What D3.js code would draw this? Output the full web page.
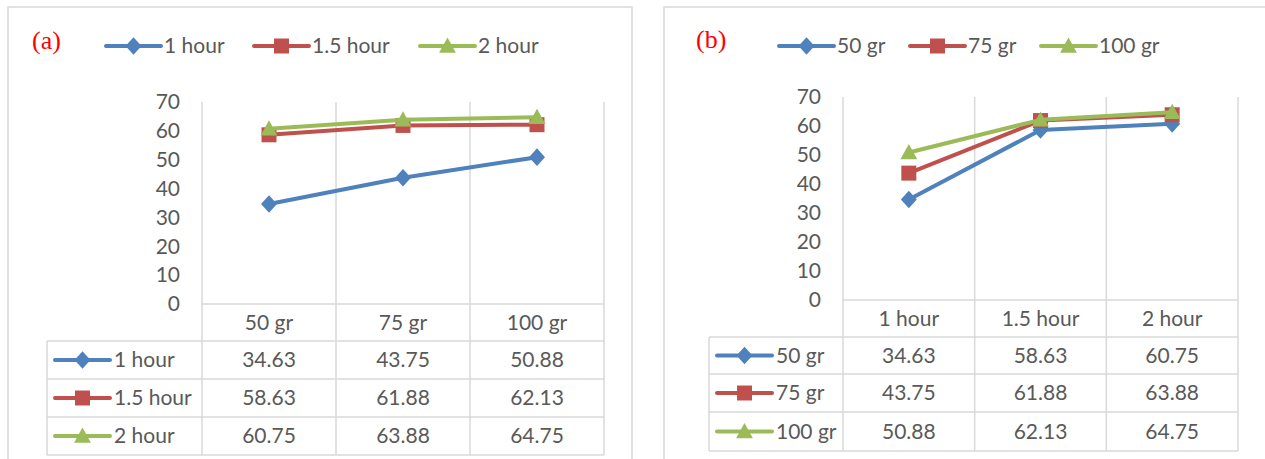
<!DOCTYPE html>
<html>
<head>
<meta charset="utf-8">
<script src="https://cdn.jsdelivr.net/npm/d3@7"></script>
<style>
  html, body { margin: 0; padding: 0; background: #ffffff; }
  svg { display: block; }
  text { font-family: Lato, "Open Sans", "Liberation Sans", sans-serif; fill: #595959; }
</style>
</head>
<body>
<svg id="chart" width="1265" height="459"></svg>
<script>
// ---------------- DATA ----------------
// Panel (a): x = sample mass, series = time
const categoriesA = ["50 gr", "75 gr", "100 gr"];
const seriesNamesA = ["1 hour", "1.5 hour", "2 hour"];
const valuesA_1hour = [34.63, 43.75, 50.88];
const valuesA_15hour = [58.63, 61.88, 62.13];
const valuesA_2hour = [60.75, 63.88, 64.75];

// Panel (b): x = time, series = sample mass
const categoriesB = ["1 hour", "1.5 hour", "2 hour"];
const seriesNamesB = ["50 gr", "75 gr", "100 gr"];
const valuesB_50gr = [34.63, 58.63, 60.75];
const valuesB_75gr = [43.75, 61.88, 63.88];
const valuesB_100gr = [50.88, 62.13, 64.75];

const yTicks = [0, 10, 20, 30, 40, 50, 60, 70];
const panelLabels = ["(a)", "(b)"];

// ---------------- STYLE ----------------
const colors = ["#4f81bd", "#c0504d", "#9bbb59"];
const gridColor = "#d9d9d9";
const fontSize = 21;

// custom Excel-like marker shapes
const diamondType = { draw(ctx, s) { const r = Math.sqrt(s) / 2; ctx.moveTo(0, -r * 1.1); ctx.lineTo(r, 0); ctx.lineTo(0, r * 1.1); ctx.lineTo(-r, 0); ctx.closePath(); } };
const squareType = { draw(ctx, s) { const r = Math.sqrt(s) / 2; ctx.moveTo(-r, -r); ctx.lineTo(r, -r); ctx.lineTo(r, r); ctx.lineTo(-r, r); ctx.closePath(); } };
const triangleType = { draw(ctx, s) { const r = Math.sqrt(s) / 2; ctx.moveTo(0, -r * 1.05); ctx.lineTo(r * 1.05, r * 0.85); ctx.lineTo(-r * 1.05, r * 0.85); ctx.closePath(); } };
const markerTypes = [diamondType, squareType, triangleType];
const markerSizes = [16 * 16, 15 * 15, 16 * 16];

const svg = d3.select("#chart");

function drawPanel(cfg) {
  const g = svg.append("g");
  g.append("rect")
    .attr("x", cfg.box[0]).attr("y", cfg.box[1])
    .attr("width", cfg.box[2]).attr("height", cfg.box[3])
    .attr("fill", "none").attr("stroke", gridColor).attr("stroke-width", 1.5);

  g.append("text")
    .attr("x", cfg.labelPos[0]).attr("y", cfg.labelPos[1])
    .attr("dominant-baseline", "central")
    .style("font-family", "'Liberation Serif', 'Times New Roman', serif")
    .style("font-size", "26px")
    .style("fill", "#ff0000")
    .text(cfg.label);

  const x = d3.scaleBand().domain(cfg.categories).range([cfg.plotLeft, cfg.plotRight]);
  const y = d3.scaleLinear().domain([0, 70]).range([cfg.zeroY, cfg.topY]);

  const bounds = cfg.categories.map(c => x(c)).concat([cfg.plotRight]);
  g.selectAll(".vgrid").data(bounds).join("line")
    .attr("x1", d => d).attr("x2", d => d)
    .attr("y1", cfg.topY).attr("y2", cfg.rowLines[cfg.rowLines.length - 1])
    .attr("stroke", gridColor).attr("stroke-width", 1.5);

  const yAxis = d3.axisLeft(y).tickValues(yTicks).tickSize(0).tickPadding(0);
  const ya = g.append("g").attr("transform", `translate(${cfg.plotLeft - 22},0)`).call(yAxis);
  ya.select(".domain").remove();
  ya.selectAll("text").attr("font-family", null).attr("font-size", null)
    .style("font-size", fontSize + "px").style("fill", "#595959");

  g.append("line")
    .attr("x1", cfg.plotLeft).attr("x2", cfg.plotRight)
    .attr("y1", cfg.zeroY).attr("y2", cfg.zeroY)
    .attr("stroke", gridColor).attr("stroke-width", 1.5);
  cfg.rowLines.slice(1).forEach(yy => {
    g.append("line")
      .attr("x1", cfg.tableLeft).attr("x2", cfg.plotRight)
      .attr("y1", yy).attr("y2", yy)
      .attr("stroke", gridColor).attr("stroke-width", 1.5);
  });
  g.append("line")
    .attr("x1", cfg.tableLeft).attr("x2", cfg.tableLeft)
    .attr("y1", cfg.rowLines[1]).attr("y2", cfg.rowLines[cfg.rowLines.length - 1])
    .attr("stroke", gridColor).attr("stroke-width", 1.5);

  const headerMid = (cfg.rowLines[0] + cfg.rowLines[1]) / 2;
  g.selectAll(".cat").data(cfg.categories).join("text")
    .attr("x", d => x(d) + x.bandwidth() / 2).attr("y", headerMid).attr("dy", -1.5)
    .attr("text-anchor", "middle").attr("dominant-baseline", "central")
    .style("font-size", fontSize + "px")
    .text(d => d);

  const line = d3.line().x((d, i) => x(cfg.categories[i]) + x.bandwidth() / 2).y(d => y(d));

  cfg.series.forEach((vals, si) => {
    g.append("path").datum(vals)
      .attr("d", line).attr("fill", "none")
      .attr("stroke", colors[si]).attr("stroke-width", 4)
      .attr("stroke-linejoin", "round").attr("stroke-linecap", "round");
    g.selectAll(".m" + si).data(vals).join("path")
      .attr("transform", (d, i) => `translate(${x(cfg.categories[i]) + x.bandwidth() / 2},${y(d)})`)
      .attr("d", d3.symbol().type(markerTypes[si]).size(markerSizes[si]))
      .attr("fill", colors[si]);

    const lx = cfg.legendX[si], ly = cfg.legendY;
    g.append("line").attr("x1", lx).attr("x2", lx + 55).attr("y1", ly).attr("y2", ly)
      .attr("stroke", colors[si]).attr("stroke-width", 4).attr("stroke-linecap", "round");
    g.append("path").attr("transform", `translate(${lx + 27.5},${ly})`)
      .attr("d", d3.symbol().type(markerTypes[si]).size(markerSizes[si]))
      .attr("fill", colors[si]);
    g.append("text").attr("x", lx + 58).attr("y", ly).attr("dy", -1.5)
      .attr("dominant-baseline", "central")
      .style("font-size", fontSize + "px")
      .text(cfg.seriesNames[si]);

    const rowMid = (cfg.rowLines[si + 1] + cfg.rowLines[si + 2]) / 2;
    const kx = cfg.tableLeft + 8;
    g.append("line").attr("x1", kx).attr("x2", kx + 55).attr("y1", rowMid).attr("y2", rowMid)
      .attr("stroke", colors[si]).attr("stroke-width", 4).attr("stroke-linecap", "round");
    g.append("path").attr("transform", `translate(${kx + 27.5},${rowMid})`)
      .attr("d", d3.symbol().type(markerTypes[si]).size(markerSizes[si]))
      .attr("fill", colors[si]);
    g.append("text").attr("x", kx + 59).attr("y", rowMid).attr("dy", -1.5)
      .attr("dominant-baseline", "central")
      .style("font-size", fontSize + "px")
      .text(cfg.seriesNames[si]);
    g.selectAll(".v" + si).data(vals).join("text")
      .attr("x", (d, i) => x(cfg.categories[i]) + x.bandwidth() / 2).attr("y", rowMid).attr("dy", -1.5)
      .attr("text-anchor", "middle").attr("dominant-baseline", "central")
      .style("font-size", fontSize + "px")
      .text(d => d3.format(".2f")(d));
  });
}

drawPanel({
  box: [8, 7, 624, 480],
  label: panelLabels[0], labelPos: [32, 40],
  categories: categoriesA, seriesNames: seriesNamesA,
  series: [valuesA_1hour, valuesA_15hour, valuesA_2hour],
  plotLeft: 202, plotRight: 604, zeroY: 304, topY: 102,
  tableLeft: 47, rowLines: [304, 341, 379, 417, 455],
  legendX: [106, 254, 420], legendY: 46
});

drawPanel({
  box: [664, 7, 640, 480],
  label: panelLabels[1], labelPos: [696, 39],
  categories: categoriesB, seriesNames: seriesNamesB,
  series: [valuesB_50gr, valuesB_75gr, valuesB_100gr],
  plotLeft: 843, plotRight: 1238, zeroY: 300, topY: 97,
  tableLeft: 709, rowLines: [300, 337, 374, 412, 451],
  legendX: [779, 910, 1041], legendY: 46
});
</script>
</body>
</html>
